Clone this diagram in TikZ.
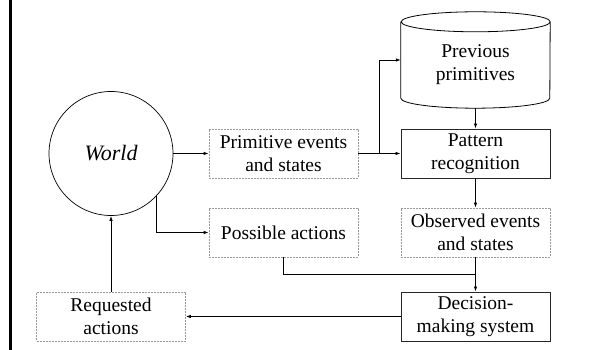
\documentclass[tikz,border=0pt]{standalone}
\usepackage{fontspec}
\newfontfamily\diagfont{LiberationSerif}[Extension=.ttf, UprightFont=*-Regular, ItalicFont=*-Italic, BoldFont=*-Bold]
\usetikzlibrary{arrows.meta}
\begin{document}
\begin{tikzpicture}[x=1pt,y=1pt,
  every node/.style={font=\diagfont\fontsize{19.5}{23}\selectfont, align=center, inner sep=0pt},
  dbox/.style={draw=gray!80, dashed, dash pattern=on 2pt off 1pt, line width=0.7pt, minimum width=149pt, minimum height=49pt},
  sbox/.style={draw=black!85, line width=0.9pt, minimum width=149pt, minimum height=49pt},
  conn/.style={line width=0.8pt, draw=black},
  arr/.style={conn, -{Latex[length=5pt,width=3.5pt]}}
]
\useasboundingbox (0,0) rectangle (592,350);
\draw[line width=2.5pt] (10.5,0) -- (10.5,350);

\node[circle, draw, line width=0.7pt, minimum size=124pt, font=\diagfont\fontsize{22}{26}\selectfont\itshape] (world) at (111,196.5) {World};
\node[dbox] (prim) at (283.5,196.5) {Primitive events\\and states};
\node[dbox] (poss) at (283.5,117.5) {Possible actions};
\node[dbox] (req) at (111,33.5) {Requested\\actions};
\node[sbox] (pat) at (475.5,196.5) {Pattern\\recognition};
\node[dbox] (obs) at (475.5,117.5) {Observed events\\and states};
\node[sbox] (dec) at (475.5,33.5) {Decision-\\making system};
\node[minimum width=149pt, minimum height=86pt] (cyl) at (475.5,285) {Previous\\primitives};
\draw[line width=0.8pt] (cyl.north west) -- ([yshift=10pt]cyl.south west)
  arc[start angle=180, end angle=360, x radius=74.5pt, y radius=10pt]
  -- (cyl.north east)
  arc[start angle=0, end angle=360, x radius=74.5pt, y radius=10pt];

\coordinate (br) at (379,196.5);
\coordinate (jn) at (475.5,76);

\draw[arr] (world.east |- prim.west) -- (prim.west);
\draw[arr] (prim.east) -- (pat.west);
\draw[arr] (br) |- ([yshift=5pt]cyl.west);
\draw[arr] (cyl.south) -- (pat.north);
\draw[arr] (pat.south) -- (obs.north);
\draw[arr] (obs.south) -- (dec.north);
\draw[arr] (world.-43.5) |- (poss.west);
\draw[conn] (poss.south) |- (jn);
\draw[arr] (dec.west) -- (req.east);
\draw[arr] (req.north) -- (world.south);
\end{tikzpicture}
\end{document}
